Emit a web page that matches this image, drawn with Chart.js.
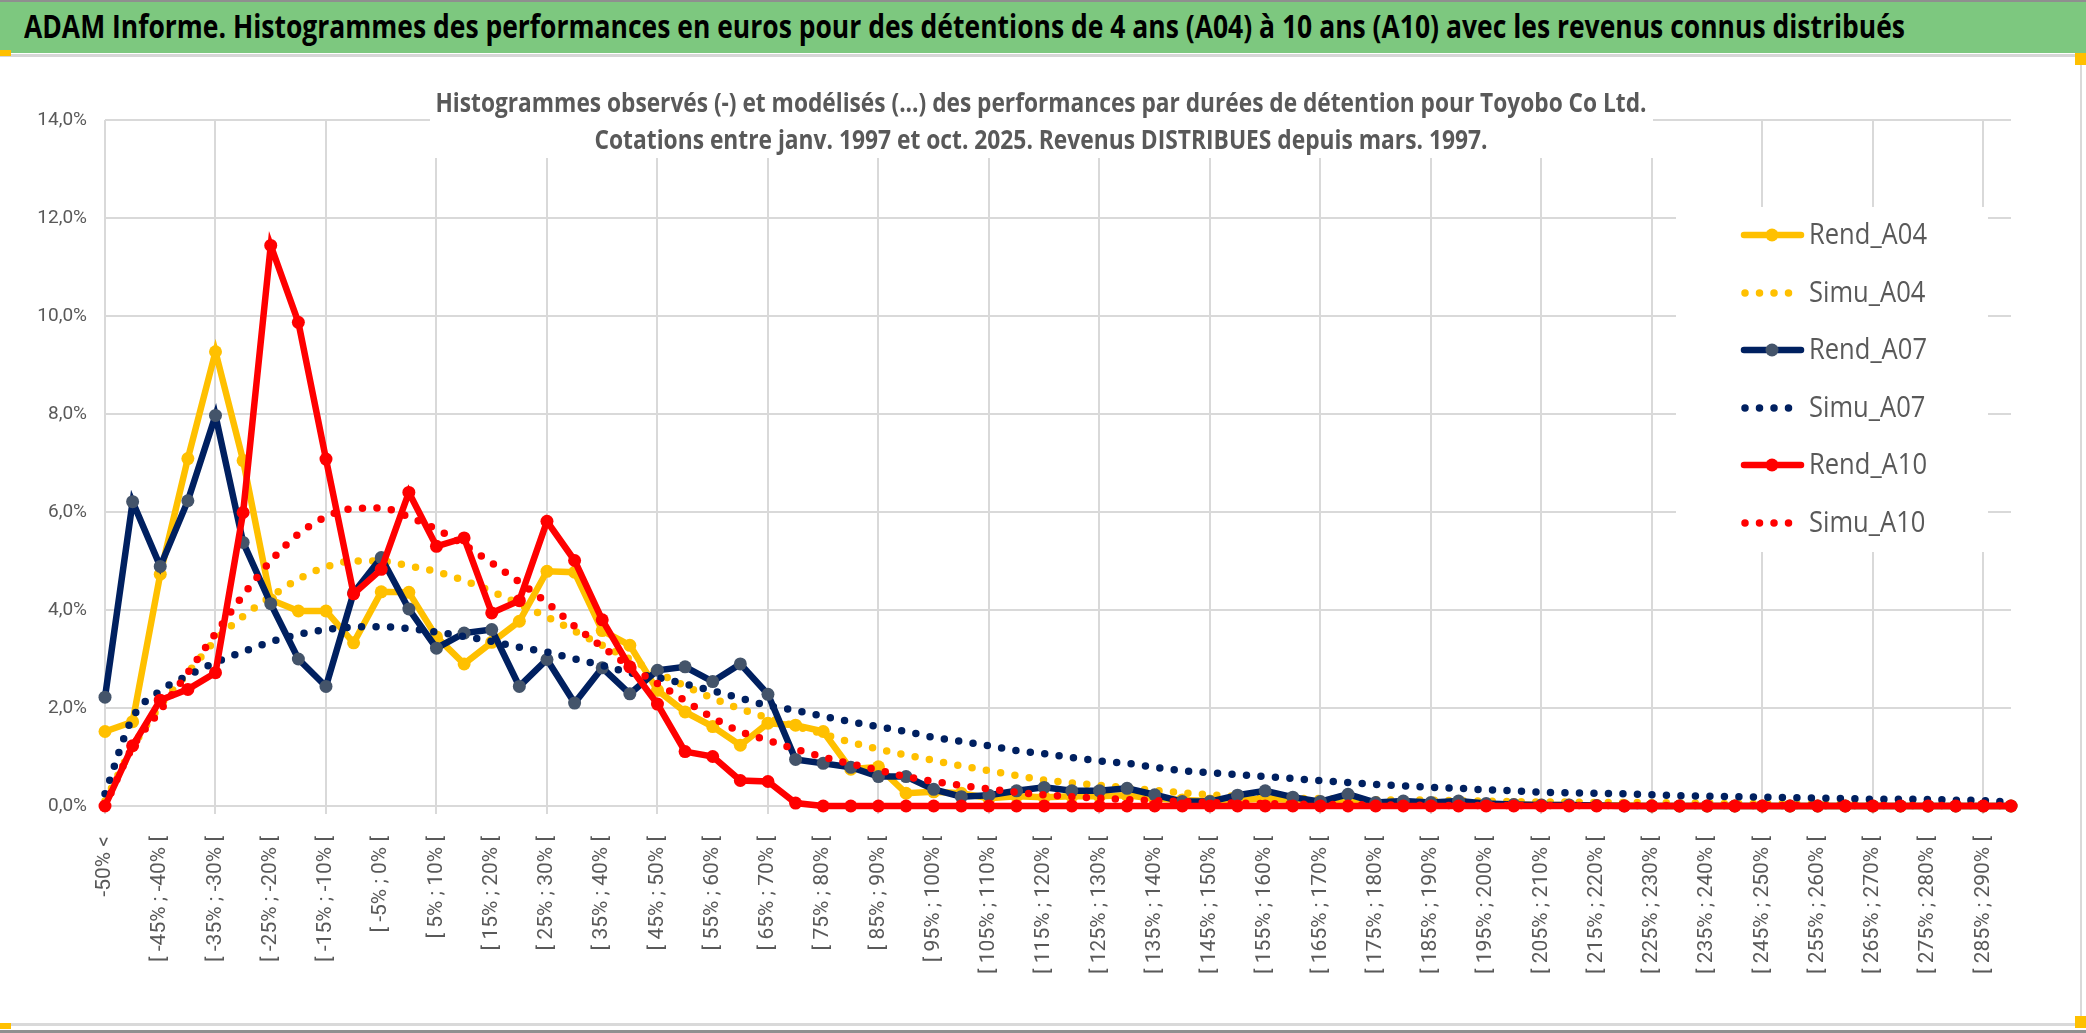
<!DOCTYPE html>
<html>
<head>
<meta charset="utf-8">
<script src="https://cdn.jsdelivr.net/npm/chart.js@4.4.1/dist/chart.umd.min.js"></script>
<style>
  body { margin: 0; background: #fff; width: 2086px; height: 1033px; overflow: hidden; position: relative; }
  #topLine { position: absolute; left: 0; top: 0; width: 2086px; height: 2px; background: #8f8f8f; }
  #header { position: absolute; left: 0; top: 2px; width: 2086px; height: 51px; background: #7dc87f; overflow: hidden; }
  #headerText { position: absolute; left: 24px; top: 2px; white-space: nowrap; font: bold 32px 'Open Sans', sans-serif; color: #000; transform-origin: left center; }
  #sep { position: absolute; left: 0; top: 54px; width: 2086px; height: 3px; background: #d6d6d6; }
  #box { position: absolute; left: 0; top: 57px; width: 2080px; height: 966px; border-right: 2px solid #d9d9d9; border-bottom: 3px solid #d9d9d9; }
  #bottomLine { position: absolute; left: 0; top: 1030px; width: 2086px; height: 3px; background: #8f8f8f; }
  .mark { position: absolute; width: 11px; height: 6px; background: #ffc000; }
  canvas { position: absolute; left: 0; top: 0; }
</style>
</head>
<body>
<div id="topLine"></div>
<div id="header"><span id="headerText">ADAM Informe. Histogrammes des performances en euros pour des détentions de 4 ans (A04) à 10 ans (A10) avec les revenus connus distribués</span></div>
<div id="sep"></div>
<div id="box"><canvas id="chart" width="2080" height="966"></canvas></div>
<div id="bottomLine"></div>
<div class="mark" style="left:0;top:50px"></div>
<div class="mark" style="left:2075px;top:53px;height:12px"></div>
<div class="mark" style="left:0;top:1023px"></div>
<div class="mark" style="left:2075px;top:1016px;height:12px"></div>
<script>
const categories = [
  "-50% <", "[ -50% ; -45% [", "[ -45% ; -40% [", "[ -40% ; -35% [", "[ -35% ; -30% [",
  "[ -30% ; -25% [", "[ -25% ; -20% [", "[ -20% ; -15% [", "[ -15% ; -10% [", "[ -10% ; -5% [",
  "[ -5% ; 0% [", "[ 0% ; 5% [", "[ 5% ; 10% [", "[ 10% ; 15% [", "[ 15% ; 20% [",
  "[ 20% ; 25% [", "[ 25% ; 30% [", "[ 30% ; 35% [", "[ 35% ; 40% [", "[ 40% ; 45% [",
  "[ 45% ; 50% [", "[ 50% ; 55% [", "[ 55% ; 60% [", "[ 60% ; 65% [", "[ 65% ; 70% [",
  "[ 70% ; 75% [", "[ 75% ; 80% [", "[ 80% ; 85% [", "[ 85% ; 90% [", "[ 90% ; 95% [",
  "[ 95% ; 100% [", "[ 100% ; 105% [", "[ 105% ; 110% [", "[ 110% ; 115% [", "[ 115% ; 120% [",
  "[ 120% ; 125% [", "[ 125% ; 130% [", "[ 130% ; 135% [", "[ 135% ; 140% [", "[ 140% ; 145% [",
  "[ 145% ; 150% [", "[ 150% ; 155% [", "[ 155% ; 160% [", "[ 160% ; 165% [", "[ 165% ; 170% [",
  "[ 170% ; 175% [", "[ 175% ; 180% [", "[ 180% ; 185% [", "[ 185% ; 190% [", "[ 190% ; 195% [",
  "[ 195% ; 200% [", "[ 200% ; 205% [", "[ 205% ; 210% [", "[ 210% ; 215% [", "[ 215% ; 220% [",
  "[ 220% ; 225% [", "[ 225% ; 230% [", "[ 230% ; 235% [", "[ 235% ; 240% [", "[ 240% ; 245% [",
  "[ 245% ; 250% [", "[ 250% ; 255% [", "[ 255% ; 260% [", "[ 260% ; 265% [", "[ 265% ; 270% [",
  "[ 270% ; 275% [", "[ 275% ; 280% [", "[ 280% ; 285% [", "[ 285% ; 290% [", "[ 290% ; 295% ["
];

// values in %
const rendA04 = [
  1.52, 1.72, 4.73, 7.09, 9.27, 7.05, 4.21, 3.98, 3.98, 3.33,
  4.37, 4.36, 3.45, 2.90, 3.34, 3.77, 4.79, 4.77, 3.58, 3.28,
  2.36, 1.92, 1.62, 1.24, 1.69, 1.65, 1.52, 0.75, 0.80, 0.26,
  0.29, 0.26, 0.16, 0.20, 0.18, 0.20, 0.20, 0.22, 0.15, 0.12,
  0.10, 0.12, 0.15, 0.12, 0.08, 0.10, 0.05, 0.05, 0.04, 0.04,
  0.03, 0.03, 0.02, 0.02, 0.01, 0.01, 0, 0, 0, 0,
  0, 0, 0, 0, 0, 0, 0, 0, 0, 0
];
const simuA04 = [
  0.10, 1.20, 2.05, 2.72, 3.38, 3.87, 4.27, 4.63, 4.88, 5.00,
  5.00, 4.90, 4.78, 4.60, 4.38, 4.12, 3.86, 3.57, 3.28, 3.00,
  2.72, 2.45, 2.20, 1.98, 1.80, 1.63, 1.47, 1.30, 1.16, 1.04,
  0.93, 0.82, 0.72, 0.62, 0.53, 0.47, 0.42, 0.37, 0.32, 0.27,
  0.23, 0.20, 0.18, 0.16, 0.15, 0.14, 0.13, 0.12, 0.12, 0.11,
  0.10, 0.09, 0.08, 0.08, 0.07, 0.07, 0.07, 0.06, 0.06, 0.05,
  0.05, 0.05, 0.04, 0.04, 0.04, 0.03, 0.03, 0.03, 0.03, 0.02
];
const rendA07 = [
  2.22, 6.21, 4.89, 6.23, 7.97, 5.38, 4.13, 3.00, 2.44, 4.35,
  5.07, 4.02, 3.22, 3.53, 3.60, 2.44, 2.99, 2.10, 2.82, 2.29,
  2.77, 2.84, 2.54, 2.90, 2.28, 0.95, 0.87, 0.79, 0.60, 0.60,
  0.34, 0.19, 0.22, 0.31, 0.38, 0.31, 0.31, 0.36, 0.23, 0.09,
  0.09, 0.22, 0.31, 0.18, 0.09, 0.24, 0.07, 0.10, 0.07, 0.10,
  0.05, 0.03, 0.02, 0.02, 0.01, 0, 0, 0, 0, 0,
  0, 0, 0, 0, 0, 0, 0, 0, 0, 0
];
const simuA07 = [
  0.25, 1.80, 2.35, 2.66, 2.93, 3.15, 3.35, 3.50, 3.60, 3.65,
  3.66, 3.62, 3.55, 3.46, 3.36, 3.24, 3.14, 3.00, 2.87, 2.72,
  2.62, 2.49, 2.35, 2.20, 2.05, 1.95, 1.83, 1.72, 1.62, 1.52,
  1.40, 1.32, 1.23, 1.13, 1.07, 0.99, 0.92, 0.87, 0.79, 0.72,
  0.68, 0.64, 0.60, 0.56, 0.52, 0.48, 0.44, 0.41, 0.38, 0.36,
  0.33, 0.31, 0.28, 0.27, 0.26, 0.25, 0.23, 0.21, 0.20, 0.19,
  0.18, 0.17, 0.16, 0.15, 0.14, 0.14, 0.13, 0.12, 0.11, 0.08
];
const rendA10 = [
  0.00, 1.23, 2.16, 2.38, 2.72, 5.99, 11.44, 9.87, 7.08, 4.33,
  4.83, 6.40, 5.30, 5.47, 3.94, 4.19, 5.81, 5.01, 3.80, 2.84,
  2.08, 1.11, 1.01, 0.52, 0.50, 0.06, 0, 0, 0, 0,
  0, 0, 0, 0, 0, 0, 0, 0, 0, 0,
  0, 0, 0, 0, 0, 0, 0, 0, 0, 0,
  0, 0, 0, 0, 0, 0, 0, 0, 0, 0,
  0, 0, 0, 0, 0, 0, 0, 0, 0, 0
];
const simuA10 = [
  0.00, 1.20, 1.95, 2.72, 3.52, 4.30, 5.00, 5.55, 5.90, 6.07,
  6.08, 5.90, 5.65, 5.33, 4.96, 4.57, 4.15, 3.67, 3.25, 2.85,
  2.50, 2.15, 1.80, 1.52, 1.34, 1.16, 1.00, 0.86, 0.73, 0.60,
  0.50, 0.42, 0.35, 0.28, 0.23, 0.19, 0.16, 0.13, 0.11, 0.09,
  0.07, 0.06, 0.05, 0.04, 0.03, 0.03, 0.02, 0.02, 0.01, 0.01,
  0.01, 0.01, 0.01, 0.01, 0.01, 0.01, 0.01, 0.01, 0.01, 0.01,
  0.01, 0.01, 0.01, 0.01, 0.01, 0.01, 0.01, 0.01, 0.01, 0.01
];
const yTicks = [0, 2, 4, 6, 8, 10, 12, 14];

const subtitleLines = [
  "Histogrammes observés (-) et modélisés (...) des performances par durées de détention pour Toyobo Co Ltd.",
  "Cotations entre janv. 1997 et oct. 2025. Revenus DISTRIBUES depuis mars. 1997."
];

const HUMAN = "'Open Sans', 'Noto Sans', sans-serif";
const GOLD = "#ffc000";
const NAVY = "#002060";
const RED = "#ff0000";
const GRID = "#d9d9d9";
const TEXT = "#595959";

// fit header width like the original
const ht = document.getElementById("headerText");
ht.style.transform = `scaleX(${1881 / ht.getBoundingClientRect().width})`;

function rendLine(label, data, color, marker) {
  return {
    label, data,
    borderColor: color,
    backgroundColor: color,
    borderWidth: 6.5,
    pointRadius: 6.5,
    pointHoverRadius: 6.5,
    pointBorderWidth: 0,
    pointBackgroundColor: marker,
    tension: 0,
    clip: 10,
  };
}

function simuLine(label, data, color) {
  return {
    label, data,
    borderColor: color,
    backgroundColor: color,
    borderWidth: 7.5,
    borderDash: [0, 14.5],
    borderCapStyle: "round",
    pointRadius: 0,
    tension: 0.35,
    cubicInterpolationMode: "monotone",
    clip: 10,
    simu: true,
  };
}

// subtitle and legend boxes sit over the grid like in the spreadsheet
const overlay = {
  id: "overlay",
  beforeDatasetsDraw(chart) {
    const ctx = chart.ctx;
    const off = 57;
    ctx.save();
    ctx.fillStyle = "#fff";
    ctx.fillRect(430, 72 - off, 1223, 86);
    ctx.fillRect(1676, 207 - off, 312, 345);

    ctx.fillStyle = TEXT;
    ctx.textAlign = "center";
    ctx.textBaseline = "middle";
    ctx.font = "bold 27px " + HUMAN;
    const widths = [1211, 893];
    const ys = [104, 141];
    subtitleLines.forEach((t, i) => {
      const w = ctx.measureText(t).width;
      ctx.save();
      ctx.translate(1041, ys[i] - off);
      ctx.scale(widths[i] / w, 1);
      ctx.fillText(t, 0, 0);
      ctx.restore();
    });

    // legend
    const legendY = [235, 293, 350, 408, 465, 523];
    ctx.font = "29px " + HUMAN;
    const sx = 118 / ctx.measureText("Rend_A04").width;
    chart.data.datasets.forEach((ds, i) => {
      const y = legendY[i] - off;
      ctx.strokeStyle = ds.borderColor;
      ctx.lineWidth = ds.borderWidth;
      ctx.lineCap = "round";
      if (ds.simu) {
        ctx.setLineDash(ds.borderDash);
        ctx.beginPath();
        ctx.moveTo(1745, y);
        ctx.lineTo(1792, y);
        ctx.stroke();
        ctx.setLineDash([]);
      } else {
        ctx.beginPath();
        ctx.moveTo(1744, y);
        ctx.lineTo(1801, y);
        ctx.stroke();
        ctx.fillStyle = ds.pointBackgroundColor;
        ctx.beginPath();
        ctx.arc(1772, y, 6.5, 0, Math.PI * 2);
        ctx.fill();
      }
      ctx.fillStyle = TEXT;
      ctx.textAlign = "left";
      ctx.save();
      ctx.translate(1809, y + 1);
      ctx.scale(sx, 1);
      ctx.fillText(ds.label, 0, 0);
      ctx.restore();
    });
    ctx.restore();
  },
};

new Chart(document.getElementById("chart"), {
  type: "line",
  data: {
    labels: categories,
    datasets: [
      rendLine("Rend_A04", rendA04, GOLD, GOLD),
      simuLine("Simu_A04", simuA04, GOLD),
      rendLine("Rend_A07", rendA07, NAVY, "#44546a"),
      simuLine("Simu_A07", simuA07, NAVY),
      rendLine("Rend_A10", rendA10, RED, RED),
      simuLine("Simu_A10", simuA10, RED),
    ].map((d, i) => Object.assign(d, { order: 5 - i })),
  },
  options: {
    responsive: false,
    animation: false,
    layout: { padding: { top: 63, right: 69, left: 0, bottom: 0 } },
    plugins: { legend: { display: false }, tooltip: { enabled: false } },
    scales: {
      x: {
        offset: false,
        border: { display: false },
        grid: {
          color: (c) => (c.index % 4 === 0 ? GRID : "transparent"),
          lineWidth: 2,
          tickLength: 8,
        },
        ticks: {
          autoSkip: false,
          maxRotation: 90,
          minRotation: 90,
          padding: 22,
          color: TEXT,
          font: { family: "Roboto, sans-serif", size: 21 },
          callback: (v, i) => (i % 2 === 0 ? categories[i] : ""),
        },
        afterFit: (s) => { s.height = 217; },
      },
      y: {
        min: 0,
        max: 14,
        border: { display: false },
        grid: { color: GRID, lineWidth: 2, drawTicks: false },
        afterBuildTicks: (s) => { s.ticks = yTicks.map((v) => ({ value: v })); },
        ticks: {
          padding: 18,
          color: TEXT,
          font: { family: "Roboto, sans-serif", size: 19 },
          callback: (v) => v.toFixed(1).replace(".", ",") + "%",
        },
        afterFit: (s) => { s.width = 105; },
      },
    },
  },
  plugins: [overlay],
});
</script>
</body>
</html>
